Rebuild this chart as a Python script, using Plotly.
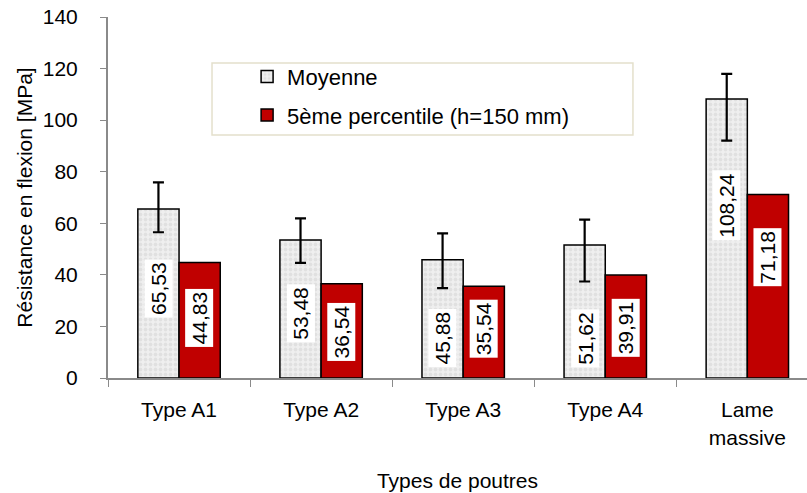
import plotly.graph_objects as go

# Flexural strength per beam type
categories = ["Type A1", "Type A2", "Type A3", "Type A4", "Lame<br>massive"]
moyenne = [65.53, 53.48, 45.88, 51.62, 108.24]
percentile_5 = [44.83, 36.54, 35.54, 39.91, 71.18]
err_plus = [10.3, 8.4, 10.2, 9.8, 9.7]
err_minus = [9.0, 8.8, 11.0, 14.2, 16.2]
y_ticks = [0, 20, 40, 60, 80, 100, 120, 140]

# where each value label sits, as a fraction of its bar height
label_pos_moy = [0.53, 0.47, 0.34, 0.30, 0.62]
label_pos_p5 = [0.52, 0.49, 0.54, 0.49, 0.66]

FONT = "Liberation Sans, Arial, sans-serif"
FS = 21

fig = go.Figure()
fig.add_trace(go.Bar(
    x=categories, y=moyenne, name="Moyenne", legendgroup="a",
    marker=dict(color="#eeeeee", line=dict(color="black", width=1.5),
                pattern=dict(shape=".", fgcolor="#d2d2d2", bgcolor="#efefef",
                             size=5, solidity=0.45)),
    error_y=dict(type="data", symmetric=False, array=err_plus, arrayminus=err_minus,
                 color="black", thickness=2.2, width=5.5),
))
fig.add_trace(go.Bar(
    x=categories, y=percentile_5, name="5ème percentile (h=150 mm)", legendgroup="b",
    marker=dict(color="#c00000", line=dict(color="black", width=1.5)),
))
# transparent copy of the means on the label axis so that axis gets drawn
fig.add_trace(go.Scatter(
    x=categories, y=moyenne, yaxis="y2", mode="markers",
    marker=dict(opacity=0), showlegend=False, hoverinfo="skip",
))

# value labels in white boxes, rotated
for cat, v, f in zip(categories, moyenne, label_pos_moy):
    fig.add_annotation(x=cat, y=v * f, xshift=-20.5, text=f"{v:.2f}".replace(".", ","),
                       textangle=-90, showarrow=False, bgcolor="white", borderpad=2,
                       font=dict(family=FONT, size=FS, color="black"))
for cat, v, f in zip(categories, percentile_5, label_pos_p5):
    fig.add_annotation(x=cat, y=v * f, xshift=20.5, text=f"{v:.2f}".replace(".", ","),
                       textangle=-90, showarrow=False, bgcolor="white", borderpad=2,
                       font=dict(family=FONT, size=FS, color="black"))

# legend frame
fig.add_shape(type="rect", xref="paper", yref="paper",
              x0=0.1488, x1=0.751, y0=0.673, y1=0.8726,
              fillcolor="white", line=dict(color="#e4e0cc", width=1.5), layer="above")

fig.update_layout(
    width=807, height=493,
    margin=dict(l=108, r=0, t=17, b=115),
    paper_bgcolor="white", plot_bgcolor="white",
    font=dict(family=FONT, size=FS, color="black"),
    barmode="group", bargap=0.42, bargroupgap=0,
    showlegend=True,
    legend=dict(x=0.199, y=0.893, xanchor="left", yanchor="top",
                bgcolor="rgba(0,0,0,0)", borderwidth=0,
                font=dict(family=FONT, size=22, color="black"),
                traceorder="grouped", tracegroupgap=7, itemwidth=30),
    xaxis=dict(
        range=[-0.5, 4.42], showline=True, linecolor="#8a8a8a", linewidth=2,
        ticks="outside", tickson="boundaries", ticklen=7, tickcolor="#8a8a8a",
        tickwidth=1.2, showgrid=False, ticklabelstandoff=12,
        title=dict(text="Types de poutres", standoff=26,
                   font=dict(family=FONT, size=FS)),
    ),
    # visible axis line and short tick marks
    yaxis=dict(
        range=[0, 140], tickvals=y_ticks, showline=True, linecolor="#8a8a8a",
        linewidth=1.5, ticks="outside", ticklen=6, tickcolor="#8a8a8a",
        tickwidth=1.2, showgrid=False, zeroline=False, showticklabels=False,
    ),
    # companion axis carrying the tick labels further out, plus the title
    yaxis2=dict(
        range=[0, 140], tickvals=y_ticks, overlaying="y", side="left", anchor="x",
        showline=False, ticks="outside", ticklen=25, tickcolor="rgba(0,0,0,0)",
        showgrid=False, zeroline=False,
        title=dict(text="Résistance en flexion [MPa]", standoff=4,
                   font=dict(family=FONT, size=FS)),
    ),
)

fig.write_html("out.html")
